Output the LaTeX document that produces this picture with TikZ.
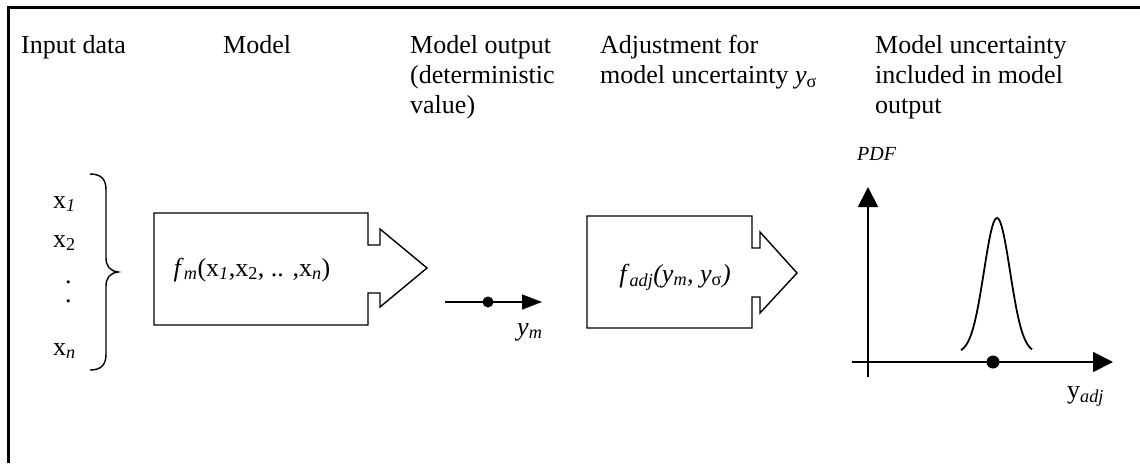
\documentclass[tikz,border=0pt]{standalone}
\usepackage{fontspec}
\setmainfont{Liberation Serif}
\usetikzlibrary{arrows.meta}

\newcommand{\lowidx}[1]{\textsubscript{#1}}

\begin{document}
\begin{tikzpicture}[x=1pt, y=-1pt,
    heading/.style={anchor=north west, inner sep=0pt, align=left, font=\fontsize{26}{30}\selectfont},
    symtext/.style={inner sep=0pt, font=\fontsize{26}{30}\selectfont},
    blockarrow/.style={line width=1.4pt, line join=miter},
    axisline/.style={line width=1.8pt, -{Triangle[length=20pt, width=20pt]}}]

    \useasboundingbox (0,0) rectangle (1140,463);

    % Frame
    \draw[line width=3pt] (8,463) -- (8,7) -- (1140,7);

    % Column headings
    \node[heading] (hinput) at (21,35) {Input data};
    \node[heading] (hmodel) at (223,35) {Model};
    \node[heading] (hout) at (410,35) {Model output\\(deterministic\\value)};
    \node[heading] (hadj) at (600,35) {Adjustment for\\model uncertainty \textit{y}\lowidx{σ}};
    \node[heading] (hunc) at (875,35) {Model uncertainty\\included in model\\output};

    % Input variables
    \node[symtext, anchor=base west] (x1) at (53,208) {x\lowidx{\textit{1}}};
    \node[symtext, anchor=base west] (x2) at (53,247) {x\lowidx{2}};
    \node[symtext, anchor=base west, align=left, font=\fontsize{26}{19}\selectfont] (dots) at (65,302) {.\\.};
    \node[symtext, anchor=base west] (xn) at (53,355) {x\lowidx{\textit{n}}};

    % Brace
    \draw[line width=1.4pt] (90,174) .. controls (102,174) and (106,180) .. (106,190) -- (106,258)
        .. controls (106,266) and (110,271) .. (118,272)
        .. controls (110,273) and (106,278) .. (106,286) -- (106,354)
        .. controls (106,364) and (102,370) .. (90,370);

    % Model block
    \draw[blockarrow] (154,213) -- (368,213) -- (368,245) -- (380,245) -- (380,229) -- (427,268)
        -- (380,307) -- (380,293) -- (368,293) -- (368,325) -- (154,325) -- cycle;
    \node[symtext, anchor=base] (fm) at (252,276)
        {\textit{f}\lowidx{\textit{m}}(x\lowidx{\textit{1}},x\lowidx{2}, .. ,x\lowidx{\textit{n}})};

    % Model output
    \coordinate (ymstart) at (445,302);
    \coordinate (ymend) at (542,302);
    \draw[line width=1.4pt, -{Triangle[length=20pt, width=15pt]}] (ymstart) -- (ymend);
    \fill (488,302) circle (5.5);
    \node[symtext, anchor=base west] (ym) at (517,335) {\textit{y}\lowidx{\textit{m}}};

    % Adjustment block
    \draw[blockarrow] (587,216) -- (752,216) -- (752,248) -- (760,248) -- (760,232) -- (797,273)
        -- (760,313) -- (760,297) -- (752,297) -- (752,328) -- (587,328) -- cycle;
    \node[symtext, anchor=base] (fadj) at (675,282)
        {\textit{f}\lowidx{\textit{adj}}\textit{(y}\lowidx{\textit{m}}\textit{, y}\lowidx{σ}\textit{)}};

    % PDF plot
    \coordinate (yaxbot) at (868,377);
    \coordinate (yaxtop) at (868,187);
    \coordinate (xaxleft) at (852,362);
    \coordinate (xaxright) at (1113,362);
    \draw[axisline] (yaxbot) -- (yaxtop);
    \draw[axisline] (xaxleft) -- (xaxright);
    \draw[line width=1.8pt] plot[domain=961:1032, samples=60, smooth] (\x, {353-135*exp(-((\x-997)^2)/338)});
    \fill (993,362) circle (6.5);
    \node[inner sep=0pt, anchor=base west, font=\fontsize{20}{24}\selectfont\itshape] (pdf) at (857,160) {PDF};
    \node[symtext, anchor=base west] (yadj) at (1067,398) {y\lowidx{\textit{adj}}};

\end{tikzpicture}
\end{document}
